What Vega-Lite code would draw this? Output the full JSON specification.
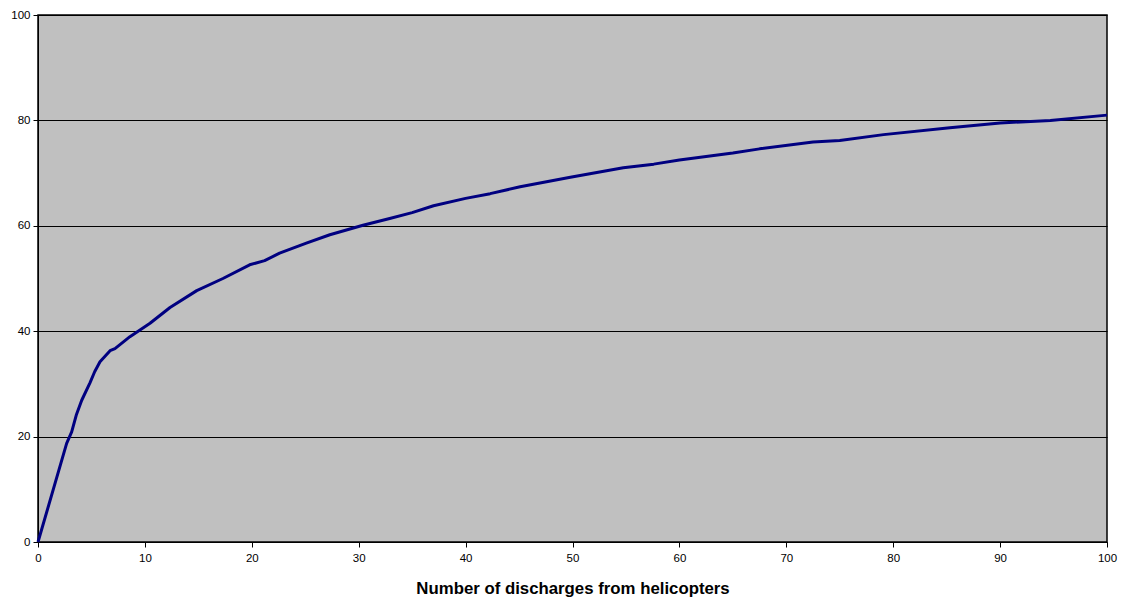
{
  "$schema": "https://vega.github.io/schema/vega-lite/v6.json",
  "width": 1069,
  "height": 527,
  "autosize": {"type": "none"},
  "padding": {"left": 38, "top": 15, "right": 18, "bottom": 60},
  "background": "white",
  "config": {
    "view": {"fill": "#C0C0C0", "stroke": "black", "strokeWidth": 1.5},
    "axis": {"labelFont": "Liberation Sans", "labelFontSize": 11.5, "labelColor": "black", "domainColor": "black", "tickColor": "black", "titleFont": "Liberation Sans", "titleColor": "black", "labelFlush": false}
  },
  "data": {"values": [
    {"x": 0, "y": 0},
    {"x": 2.68, "y": 18.7},
    {"x": 3.15, "y": 20.9},
    {"x": 3.6, "y": 24.2},
    {"x": 4.09, "y": 26.9},
    {"x": 4.86, "y": 30.2},
    {"x": 5.3, "y": 32.3},
    {"x": 5.8, "y": 34.2},
    {"x": 6.74, "y": 36.3},
    {"x": 7.2, "y": 36.7},
    {"x": 8.6, "y": 38.96},
    {"x": 10.48, "y": 41.5},
    {"x": 12.35, "y": 44.5},
    {"x": 14.85, "y": 47.7},
    {"x": 17.3, "y": 50.0},
    {"x": 19.8, "y": 52.6},
    {"x": 21.2, "y": 53.4},
    {"x": 22.6, "y": 54.8},
    {"x": 25.1, "y": 56.7},
    {"x": 27.3, "y": 58.3},
    {"x": 30.4, "y": 60.1},
    {"x": 32.9, "y": 61.4},
    {"x": 35.0, "y": 62.5},
    {"x": 37.0, "y": 63.8},
    {"x": 40.0, "y": 65.2},
    {"x": 42.3, "y": 66.1},
    {"x": 45.1, "y": 67.4},
    {"x": 49.8, "y": 69.2},
    {"x": 54.75, "y": 71.0},
    {"x": 57.6, "y": 71.7},
    {"x": 60.0, "y": 72.5},
    {"x": 65.0, "y": 73.8},
    {"x": 67.5, "y": 74.6},
    {"x": 72.5, "y": 75.9},
    {"x": 75.0, "y": 76.2},
    {"x": 79.1, "y": 77.3},
    {"x": 85.3, "y": 78.6},
    {"x": 90.0, "y": 79.5},
    {"x": 94.7, "y": 80.0},
    {"x": 100, "y": 81.0}
  ]},
  "mark": {"type": "line", "color": "#000080", "strokeWidth": 3, "interpolate": "linear", "strokeJoin": "round"},
  "encoding": {
    "x": {"field": "x", "type": "quantitative", "scale": {"domain": [0, 100], "nice": false},
      "axis": {"values": [0,10,20,30,40,50,60,70,80,90,100], "grid": false, "tickSize": 5, "labelPadding": 5, "title": "Number of discharges from helicopters", "titleFontSize": 16.8, "titleFontWeight": "bold", "titlePadding": 17}},
    "y": {"field": "y", "type": "quantitative", "scale": {"domain": [0, 100], "nice": false},
      "axis": {"values": [0,20,40,60,80,100], "grid": true, "gridColor": "black", "gridOpacity": 1, "gridWidth": 1.2, "tickSize": 5, "labelPadding": 3, "title": null}}
  }
}
